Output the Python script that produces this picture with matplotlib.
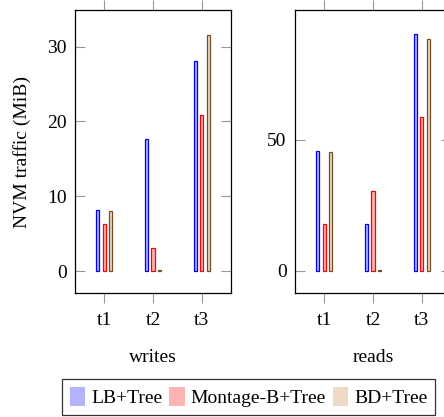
import matplotlib
matplotlib.use("Agg")
import matplotlib.pyplot as plt
import numpy as np
from matplotlib.patches import Patch

plt.rcParams['font.family'] = ['Liberation Serif', 'DejaVu Serif']
plt.rcParams['mathtext.fontset'] = 'dejavuserif'

categories = ["t1", "t2", "t3"]
series = ["LB+Tree", "Montage-B+Tree", "BD+Tree"]
writes_lb = [8.2, 17.7, 28.1]
writes_montage = [6.35, 3.1, 20.9]
writes_bd = [8.05, 0.1, 31.6]
reads_lb = [45.9, 17.8, 90.6]
reads_montage = [17.8, 30.4, 58.9]
reads_bd = [45.5, 0.3, 88.4]

edge_colors = ["#0000ff", "#ff0000", "#734d26"]
face_colors = ["#b3b3ff", "#ffb3b3", "#ecd9c6"]

W, H = 444, 417
fig = plt.figure(figsize=(W / 100, H / 100), dpi=100)

def ax_rect(x0, y0, x1, y1):
    return [x0 / W, 1 - y1 / H, (x1 - x0) / W, (y1 - y0) / H]

ax1 = fig.add_axes(ax_rect(75, 10, 231, 293))
ax2 = fig.add_axes(ax_rect(295, 10, 451, 293))

fs = 14
x = np.arange(len(categories))
offsets = [-0.135, 0.0, 0.135]
bw = 0.065

def draw(ax, data, ylim, yticks, xlabel):
    for vals, off, ec, fc in zip(data, offsets, edge_colors, face_colors):
        ax.bar(x + off, vals, width=bw, color=fc, edgecolor=ec, linewidth=0.9)
    ax.set_xlim(-0.6, 2.6)
    ax.set_ylim(*ylim)
    ax.set_xticks(x)
    ax.set_xticklabels(categories, fontsize=fs)
    ax.set_yticks(yticks)
    ax.set_yticklabels([str(t) for t in yticks], fontsize=fs)
    ax.tick_params(axis='x', direction='out', length=7, width=0.8, color='#999999',
                   top=True, bottom=True, pad=7)
    ax.tick_params(axis='y', direction='in', length=7, width=0.8, color='#999999',
                   left=True, right=True, pad=6)
    ax.set_xlabel(xlabel, fontsize=fs, labelpad=14)
    for s in ax.spines.values():
        s.set_linewidth(0.9)
        s.set_color('black')

draw(ax1, [writes_lb, writes_montage, writes_bd], (-2.93, 34.9), [0, 10, 20, 30], "writes")
draw(ax2, [reads_lb, reads_montage, reads_bd], (-8.4, 99.6), [0, 50], "reads")
ax1.set_ylabel("NVM traffic (MiB)", fontsize=fs, labelpad=11.5)

handles = [Patch(facecolor=fc, edgecolor='none') for fc in face_colors]
leg = fig.legend(handles, series, loc='center', bbox_to_anchor=(248.5 / W, 1 - 397 / H),
                 ncol=3, fontsize=fs, frameon=True, fancybox=False,
                 handlelength=0.8, handleheight=1.1, handletextpad=0.3,
                 columnspacing=0.35, borderpad=0.4, borderaxespad=0)
leg.get_frame().set_edgecolor('black')
leg.get_frame().set_linewidth(0.9)

fig.savefig("out.png", dpi=100)
